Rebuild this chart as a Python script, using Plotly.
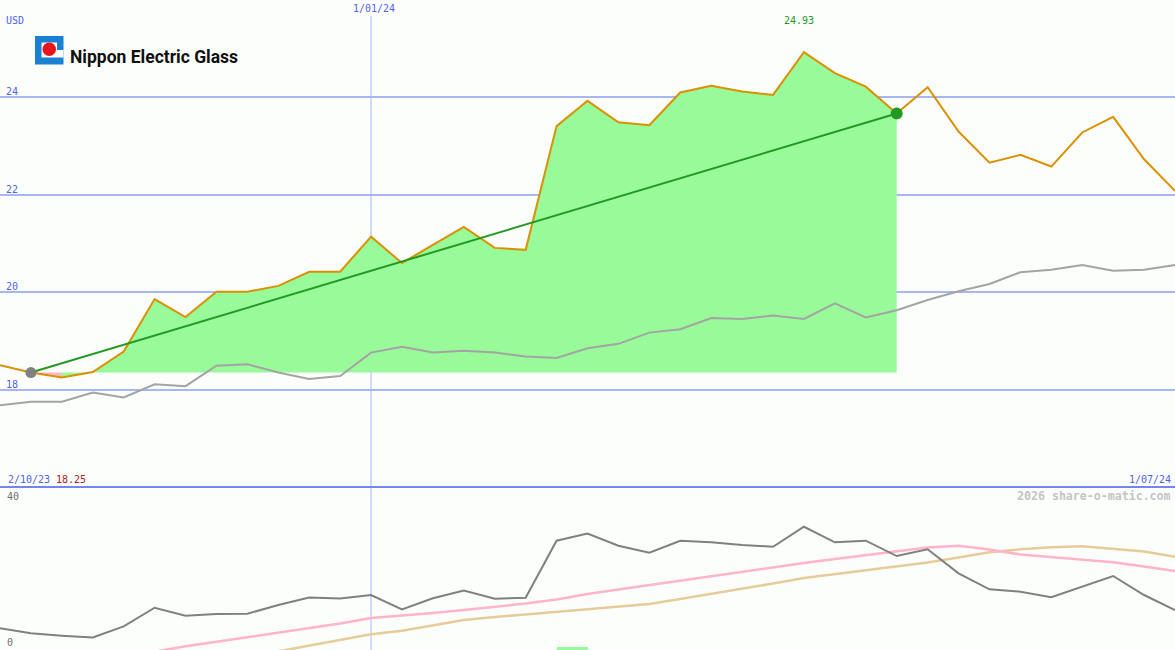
import plotly.graph_objects as go
import pandas as pd

W, H = 1175, 650

# ---------------- data ----------------
week_dates = pd.date_range("2023-10-09", periods=39, freq="7D")

price = [18.50, 18.35, 18.25, 18.36, 18.78, 19.86, 19.49, 20.01, 20.01, 20.13,
         20.42, 20.42, 21.14, 20.60, 20.97, 21.34, 20.91, 20.87, 23.41, 23.93,
         23.49, 23.43, 24.10, 24.24, 24.12, 24.05, 24.93, 24.50, 24.22, 23.67,
         24.21, 23.30, 22.66, 22.82, 22.58, 23.28, 23.60, 22.73, 22.08]

index_line = [17.68, 17.75, 17.75, 17.94, 17.84, 18.11, 18.07, 18.49, 18.52, 18.35,
              18.22, 18.28, 18.76, 18.88, 18.76, 18.80, 18.76, 18.68, 18.65, 18.85,
              18.94, 19.17, 19.24, 19.47, 19.45, 19.52, 19.45, 19.77, 19.48, 19.63,
              19.84, 20.02, 20.17, 20.41, 20.46, 20.56, 20.44, 20.46, 20.56]

momentum = [5.36, 4.00, 3.35, 2.86, 5.90, 10.97, 8.76, 9.25, 9.33, 11.70,
            13.74, 13.47, 14.42, 10.48, 13.52, 15.65, 13.41, 13.69, 29.20, 31.16,
            27.84, 25.93, 29.20, 28.76, 28.03, 27.56, 33.00, 28.76, 29.20, 25.03,
            26.86, 20.33, 15.97, 15.32, 13.80, 16.68, 19.59, 14.42, 10.34]

ma_fast = [None] * 5 + [-1.00, 0.46, 1.71, 2.94, 4.16, 5.39, 6.67, 8.16, 8.76, 9.52,
                        10.34, 11.16, 12.11, 13.20, 14.69, 15.92, 17.14, 18.23, 19.46, 20.68,
                        21.90, 23.13, 24.22, 25.31, 26.39, 27.35, 27.84, 26.80, 25.44, 24.76,
                        23.95, 23.32, 22.18, 20.95]

ma_slow = [None] * 9 + [-0.90, 0.68, 2.23, 3.73, 4.71, 6.26, 7.62, 8.44, 9.12, 9.80,
                        10.48, 11.16, 11.97, 13.33, 14.69, 16.05, 17.55, 19.05, 20.14, 21.22,
                        22.31, 23.27, 24.63, 26.04, 26.86, 27.40, 27.70, 27.07, 26.26, 24.84]

signal_dates = ["2024-02-12"]
signal_values = [0.9]

price_gridlines = [18, 20, 22, 24]
lower_labels = [40, 0]
start_label = "2/10/23"
marker_date = "2024-01-01"
trend_start, trend_end = 1, 29
currency = "USD"
company = "Nippon Electric Glass"
credit = "2026 share-o-matic.com"

# ---------------- style ----------------
BG = "#fcfefc"
GRID = "#a8b6f4"
VLINE = "#a8b6f8"
SEP = "#7484f0"
BLUE_TXT = "#5062ee"
ORANGE = "#dc9000"
GREY_MAIN = "#a4a4a4"
GREY_DARK = "#808080"
PINK = "#ffb4c8"
TAN = "#e6cc98"
GREEN_FILL = "#98fa98"
PINK_FILL = "#ffb6c4"
TREND = "#229a22"
RED_TXT = "#a81c1c"
MONO = "DejaVu Sans Mono, monospace"

P_MAIN_BOTTOM = 487
P_LOW_TOP = 488
main_range = [16, 26]
low_range = [-0.54, 43.54]


def fmt(d):
    d = pd.Timestamp(d)
    return f"{d.day}/{d.month:02d}/{d:%y}"


fig = go.Figure()

# performance fill between price and starting level
base = price[trend_start]
segs = []
for i in range(trend_start, trend_end):
    col = GREEN_FILL if price[i + 1] >= base else PINK_FILL
    if segs and segs[-1][2] == col:
        segs[-1][1] = i + 1
    else:
        segs.append([i, i + 1, col])
for a, b, col in segs:
    xs = list(week_dates[a:b + 1]) + [week_dates[b], week_dates[a]]
    ys = price[a:b + 1] + [base, base]
    fig.add_trace(go.Scatter(x=xs, y=ys, fill="toself", fillcolor=col, mode="lines",
                             line=dict(width=0, color=col), hoverinfo="skip",
                             xaxis="x", yaxis="y"))

# index line
fig.add_trace(go.Scatter(x=week_dates, y=index_line, mode="lines",
                         line=dict(color=GREY_MAIN, width=2), xaxis="x", yaxis="y"))
# price line
fig.add_trace(go.Scatter(x=week_dates, y=price, mode="lines",
                         line=dict(color=ORANGE, width=2), xaxis="x", yaxis="y"))
# trend line
fig.add_trace(go.Scatter(x=[week_dates[trend_start], week_dates[trend_end]],
                         y=[price[trend_start], price[trend_end]], mode="lines",
                         line=dict(color=TREND, width=2), xaxis="x", yaxis="y"))
fig.add_trace(go.Scatter(x=[week_dates[trend_start]], y=[price[trend_start]], mode="markers",
                         marker=dict(color="#808080", size=11, line=dict(width=0)),
                         xaxis="x", yaxis="y"))
fig.add_trace(go.Scatter(x=[week_dates[trend_end]], y=[price[trend_end]], mode="markers",
                         marker=dict(color=TREND, size=12, line=dict(width=0)),
                         xaxis="x", yaxis="y"))

# lower panel
fig.add_trace(go.Bar(x=signal_dates, y=signal_values, base=low_range[0],
                     width=[7 * 86400000] * len(signal_dates), offset=0,
                     marker=dict(color=GREEN_FILL, line=dict(width=0)),
                     xaxis="x2", yaxis="y2"))
fig.add_trace(go.Scatter(x=week_dates, y=ma_slow, mode="lines",
                         line=dict(color=TAN, width=2.5), xaxis="x2", yaxis="y2"))
fig.add_trace(go.Scatter(x=week_dates, y=ma_fast, mode="lines",
                         line=dict(color=PINK, width=2.5), xaxis="x2", yaxis="y2"))
fig.add_trace(go.Scatter(x=week_dates, y=momentum, mode="lines",
                         line=dict(color=GREY_DARK, width=2), xaxis="x2", yaxis="y2"))

xr = [week_dates[0], week_dates[-1]]
axis_off = dict(showticklabels=False, zeroline=False, showline=False, ticks="")
fig.update_layout(
    width=W, height=H, margin=dict(l=0, r=0, t=0, b=0),
    paper_bgcolor=BG, plot_bgcolor=BG, showlegend=False, template="none",
    xaxis=dict(range=xr, domain=[0, 1], anchor="y", showgrid=False, **axis_off),
    xaxis2=dict(range=xr, domain=[0, 1], anchor="y2", showgrid=False, **axis_off),
    yaxis=dict(range=main_range, domain=[1 - P_MAIN_BOTTOM / H, 1], tickvals=price_gridlines,
               showgrid=True, gridcolor=GRID, gridwidth=2, **axis_off),
    yaxis2=dict(range=low_range, domain=[0, 1 - P_LOW_TOP / H], showgrid=False, **axis_off),
    bargap=0,
)

shapes = []
# date marker vertical line
shapes.append(dict(type="line", xref="x", yref="paper", x0=marker_date, x1=marker_date,
                   y0=0, y1=1 - 16 / H, line=dict(color=VLINE, width=1), layer="below"))
# panel separator
shapes.append(dict(type="line", xref="paper", yref="paper", x0=0, x1=1,
                   y0=1 - 487 / H, y1=1 - 487 / H, line=dict(color=SEP, width=2), layer="above"))


def prect(x0, y0, x1, y1, color, kind="rect"):
    return dict(type=kind, xref="paper", yref="paper", x0=x0 / W, x1=x1 / W,
                y0=1 - y1 / H, y1=1 - y0 / H, fillcolor=color, line=dict(width=0),
                layer="above")


# logo
shapes.append(prect(35, 36, 63.5, 64.5, "#1a80d4"))
shapes.append(prect(41.5, 42.5, 57, 57.5, "#ffffff"))
shapes.append(prect(57, 50, 63.5, 57.5, "#ffffff"))
shapes.append(prect(42.5, 42.5, 56, 56, "#e8141e", kind="circle"))
fig.update_layout(shapes=shapes)

ann = []


def label(text, px, py, xanchor="left", color=BLUE_TXT, size=10, bold=False, family=MONO):
    ann.append(dict(text=f"<b>{text}</b>" if bold else text, xref="paper", yref="paper",
                    x=px / W, y=1 - py / H, xanchor=xanchor, yanchor="middle",
                    showarrow=False, font=dict(family=family, size=size, color=color)))


label(currency, 4, 20.5)
for v in price_gridlines:
    ann.append(dict(text=str(v), xref="paper", yref="y", x=4 / W, y=v, xanchor="left",
                    yanchor="bottom", yshift=-2, showarrow=False,
                    font=dict(family=MONO, size=10, color=BLUE_TXT)))
# date marker label
ann.append(dict(text=fmt(marker_date), xref="x", yref="paper", x=marker_date, y=1 - 9 / H,
                xanchor="center", yanchor="middle", xshift=3, showarrow=False,
                font=dict(family=MONO, size=10, color=BLUE_TXT)))
# max price label
imax = max(range(len(price)), key=lambda i: price[i])
ann.append(dict(text=f"{price[imax]:.2f}", xref="x", yref="paper", x=week_dates[imax],
                y=1 - 21 / H, xanchor="center", yanchor="middle", xshift=-5, showarrow=False,
                font=dict(family=MONO, size=10, color=TREND)))
label(start_label, 6, 479)
label(f"{min(price):.2f}", 54, 479, color=RED_TXT)
label(fmt(week_dates[-1]), 1173, 479, xanchor="right")
label(str(lower_labels[0]), 5, 496, color="#707070")
label(str(lower_labels[1]), 5, 642, color="#707070")
label(credit, 1173, 496, xanchor="right", color="#c4c4c4", size=11.6, bold=True)
label(company, 68, 57, color="#111111", size=17.5, bold=True,
      family="Roboto, Liberation Sans, sans-serif")

fig.update_layout(annotations=ann)
fig.write_html("out.html", config={"displayModeBar": False},
               post_script="document.body.style.margin='0';document.body.style.overflow='hidden';")
